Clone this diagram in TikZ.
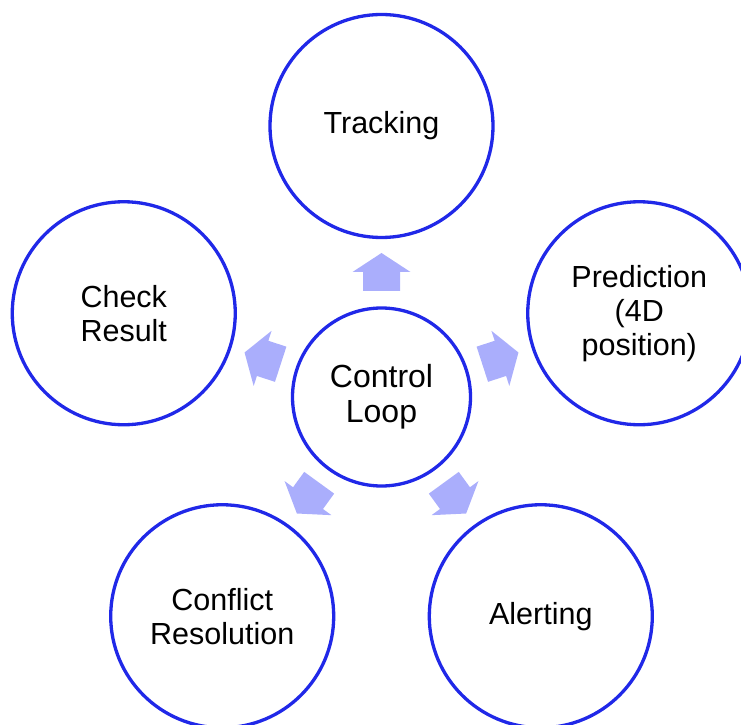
\documentclass[tikz,border=0pt]{standalone}
\usepackage{fontspec}
\setmainfont{Liberation Sans}
\usetikzlibrary{positioning,calc}

\definecolor{ringblue}{RGB}{32,40,232}
\definecolor{arrowblue}{RGB}{170,174,252}

\begin{document}
\begin{tikzpicture}[
  x=1pt,
  y=1pt,
  stage/.style={circle,draw=ringblue,line width=3.3pt,fill=white,minimum size=223pt,
    inner sep=0pt,align=center,font=\fontsize{30.5}{34}\selectfont},
  hub/.style={stage,minimum size=178pt,font=\fontsize{32}{35}\selectfont},
  blockarrow/.style={fill=arrowblue,draw=none}
]
\useasboundingbox (0,0) rectangle (741,724);

% the loop in the middle
\node[hub] (ctrl) at (381.5,327) {Control\\Loop};

% five stages round it
\node[stage] (track)   at ($(ctrl)+(90:271)$)   {Tracking};
\node[stage] (pred)    at ($(ctrl)+(18:271)$)   {Prediction\\(4D\\position)};
\node[stage] (alert)   at ($(ctrl)+(-54:271)$)  {Alerting};
\node[stage] (resolve) at ($(ctrl)+(-126:271)$) {Conflict\\Resolution};
\node[stage] (check)   at ($(ctrl)+(162:271)$)  {Check\\Result};

% block arrows pointing out
\foreach \a in {90,18,-54,-126,162} {
  \path[blockarrow,shift={(ctrl.center)},rotate=\a]
    (106,-18.5) -- (125,-18.5) -- (125,-29) -- (144,0) -- (125,29) -- (125,18.5) -- (106,18.5) -- cycle;
}
\end{tikzpicture}
\end{document}
